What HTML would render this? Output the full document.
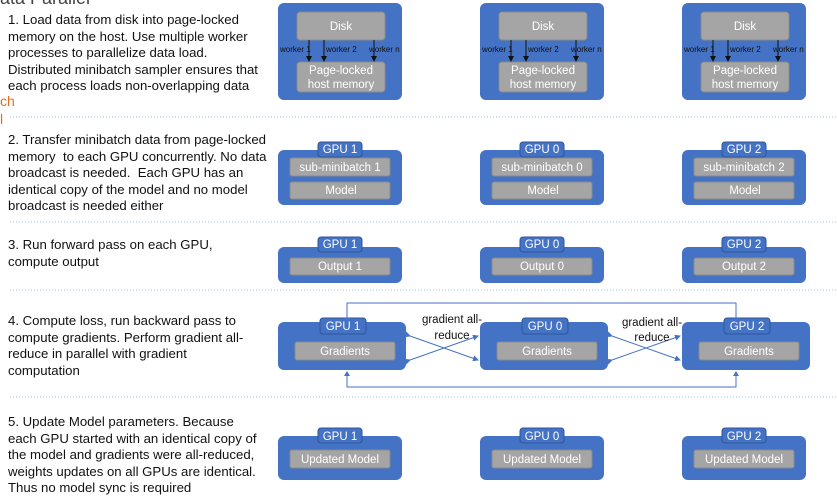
<!DOCTYPE html>
<html><head><meta charset="utf-8"><style>
body{margin:0;width:837px;height:502px;overflow:hidden;background:#fff;font-family:"Liberation Sans",sans-serif;}
.t{position:absolute;left:8px;font-size:13.2px;line-height:16.5px;color:#111;white-space:nowrap;}
</style></head><body>
<svg width="837" height="502" style="position:absolute;left:0;top:0" font-family="Liberation Sans, sans-serif">
<defs><marker id="a" markerWidth="6" markerHeight="6" refX="5" refY="3" orient="auto"><path d="M0,0L6,3L0,6z" fill="#111"/></marker>
<marker id="b" markerWidth="6" markerHeight="6" refX="5" refY="3" orient="auto"><path d="M0,0L6,3L0,6z" fill="#4472c4"/></marker></defs>
<text x="0" y="4" font-size="18" fill="#444">ata Parallel</text>
<text x="0" y="106" font-size="14" fill="#e07020">ch</text>
<text x="0" y="124" font-size="14" fill="#e07020">l</text>
<g stroke="#9dc3e6" stroke-dasharray="1,2" stroke-width="1">
<line x1="10" y1="117" x2="837" y2="117"/><line x1="10" y1="222" x2="837" y2="222"/><line x1="10" y1="290" x2="837" y2="290"/><line x1="10" y1="397" x2="837" y2="397"/></g>
<g font-size="11.5" text-anchor="middle">
<g id="r1">
<rect x="278" y="3" width="124" height="97" rx="6" fill="#4472c4"/>
<rect x="297" y="12" width="88" height="28" rx="3" fill="#a5a5a5" stroke="#8a8a8a"/>
<text x="341" y="30" fill="#fff">Disk</text>
<rect x="297" y="62" width="88" height="30" rx="3" fill="#a5a5a5" stroke="#8a8a8a"/>
<text x="341" y="74" fill="#fff">Page-locked</text><text x="341" y="88" fill="#fff">host memory</text>
<g stroke="#111"><line x1="309" y1="40" x2="309" y2="61" marker-end="url(#a)"/><line x1="324" y1="40" x2="324" y2="61" marker-end="url(#a)"/><line x1="374" y1="40" x2="374" y2="61" marker-end="url(#a)"/></g>
<g font-size="8" fill="#111" text-anchor="start"><text x="280" y="52">worker 1</text><text x="326" y="52">worker 2</text><text x="369" y="52">worker n</text></g>
</g>
<use href="#r1" x="202"/><use href="#r1" x="404"/>
</g>
<g font-size="11.5" text-anchor="middle" fill="#fff">
<g id="g2"><rect x="278" y="150" width="124" height="55" rx="6" fill="#4472c4"/><rect x="318" y="142" width="44" height="15" rx="3" fill="#4472c4" stroke="#2f5597"/><rect x="290" y="158" width="100" height="18" rx="2" fill="#a5a5a5" stroke="#8a8a8a"/><rect x="290" y="182" width="100" height="17" rx="2" fill="#a5a5a5" stroke="#8a8a8a"/><text x="341" y="194">Model</text></g>
<use href="#g2" x="202"/><use href="#g2" x="404"/>
<text x="340" y="153">GPU 1</text><text x="542" y="153">GPU 0</text><text x="744" y="153">GPU 2</text>
<text x="340" y="171">sub-minibatch 1</text><text x="542" y="171">sub-minibatch 0</text><text x="744" y="171">sub-minibatch 2</text>
<g id="g3"><rect x="278" y="247" width="124" height="36" rx="6" fill="#4472c4"/><rect x="318" y="237" width="44" height="15" rx="3" fill="#4472c4" stroke="#2f5597"/><rect x="290" y="258" width="100" height="17" rx="2" fill="#a5a5a5" stroke="#8a8a8a"/></g>
<use href="#g3" x="202"/><use href="#g3" x="404"/>
<text x="340" y="248">GPU 1</text><text x="542" y="248">GPU 0</text><text x="744" y="248">GPU 2</text>
<text x="340" y="270">Output 1</text><text x="542" y="270">Output 0</text><text x="744" y="270">Output 2</text>
<g id="g4"><rect x="278" y="322" width="128" height="48" rx="6" fill="#4472c4"/><rect x="320" y="318" width="46" height="16" rx="3" fill="#4472c4" stroke="#2f5597"/><rect x="295" y="342" width="100" height="18" rx="2" fill="#a5a5a5" stroke="#8a8a8a"/></g>
<use href="#g4" x="202"/><use href="#g4" x="404"/>
<text x="343" y="330">GPU 1</text><text x="545" y="330">GPU 0</text><text x="747" y="330">GPU 2</text>
<text x="345" y="355">Gradients</text><text x="547" y="355">Gradients</text><text x="749" y="355">Gradients</text>
<g id="g5"><rect x="278" y="436" width="124" height="44" rx="6" fill="#4472c4"/><rect x="318" y="428" width="44" height="15" rx="3" fill="#4472c4" stroke="#2f5597"/><rect x="290" y="450" width="100" height="18" rx="2" fill="#a5a5a5" stroke="#8a8a8a"/></g>
<use href="#g5" x="202"/><use href="#g5" x="404"/>
<text x="340" y="440">GPU 1</text><text x="542" y="440">GPU 0</text><text x="744" y="440">GPU 2</text>
<text x="340" y="463">Updated Model</text><text x="542" y="463">Updated Model</text><text x="744" y="463">Updated Model</text>
</g>
<g stroke="#4472c4" stroke-width="1" fill="none">
<polyline points="347,318 347,303 736,303 736,318"/>
<polyline points="347,372 347,387 736,387 736,372"/>
<line x1="410" y1="336" x2="478" y2="360" marker-end="url(#b)" marker-start="url(#b)"/>
<line x1="410" y1="360" x2="478" y2="336" marker-end="url(#b)" marker-start="url(#b)"/>
<line x1="612" y1="336" x2="680" y2="360" marker-end="url(#b)" marker-start="url(#b)"/>
<line x1="612" y1="360" x2="680" y2="336" marker-end="url(#b)" marker-start="url(#b)"/>
</g>
<g fill="#4472c4"><path d="M344,318L350,318L347,323z"/><path d="M733,318L739,318L736,323z"/><path d="M344,376L350,376L347,371z"/><path d="M733,376L739,376L736,371z"/></g>
<g font-size="11.5" fill="#111" text-anchor="middle"><text x="452" y="323">gradient all-</text><text x="452" y="339">reduce</text><text x="652" y="326">gradient all-</text><text x="652" y="341">reduce</text></g>
</svg>
<div class="t" style="top:12px">1. Load data from disk into page-locked<br>memory on the host. Use multiple worker<br>processes to parallelize data load.<br>Distributed minibatch sampler ensures that<br>each process loads non-overlapping data</div>
<div class="t" style="top:132px">2. Transfer minibatch data from page-locked<br>memory &nbsp;to each GPU concurrently. No data<br>broadcast is needed. &nbsp;Each GPU has an<br>identical copy of the model and no model<br>broadcast is needed either</div>
<div class="t" style="top:237px">3. Run forward pass on each GPU,<br>compute output</div>
<div class="t" style="top:313px">4. Compute loss, run backward pass to<br>compute gradients. Perform gradient all-<br>reduce in parallel with gradient<br>computation</div>
<div class="t" style="top:414px">5. Update Model parameters. Because<br>each GPU started with an identical copy of<br>the model and gradients were all-reduced,<br>weights updates on all GPUs are identical.<br>Thus no model sync is required</div>
</body></html>
